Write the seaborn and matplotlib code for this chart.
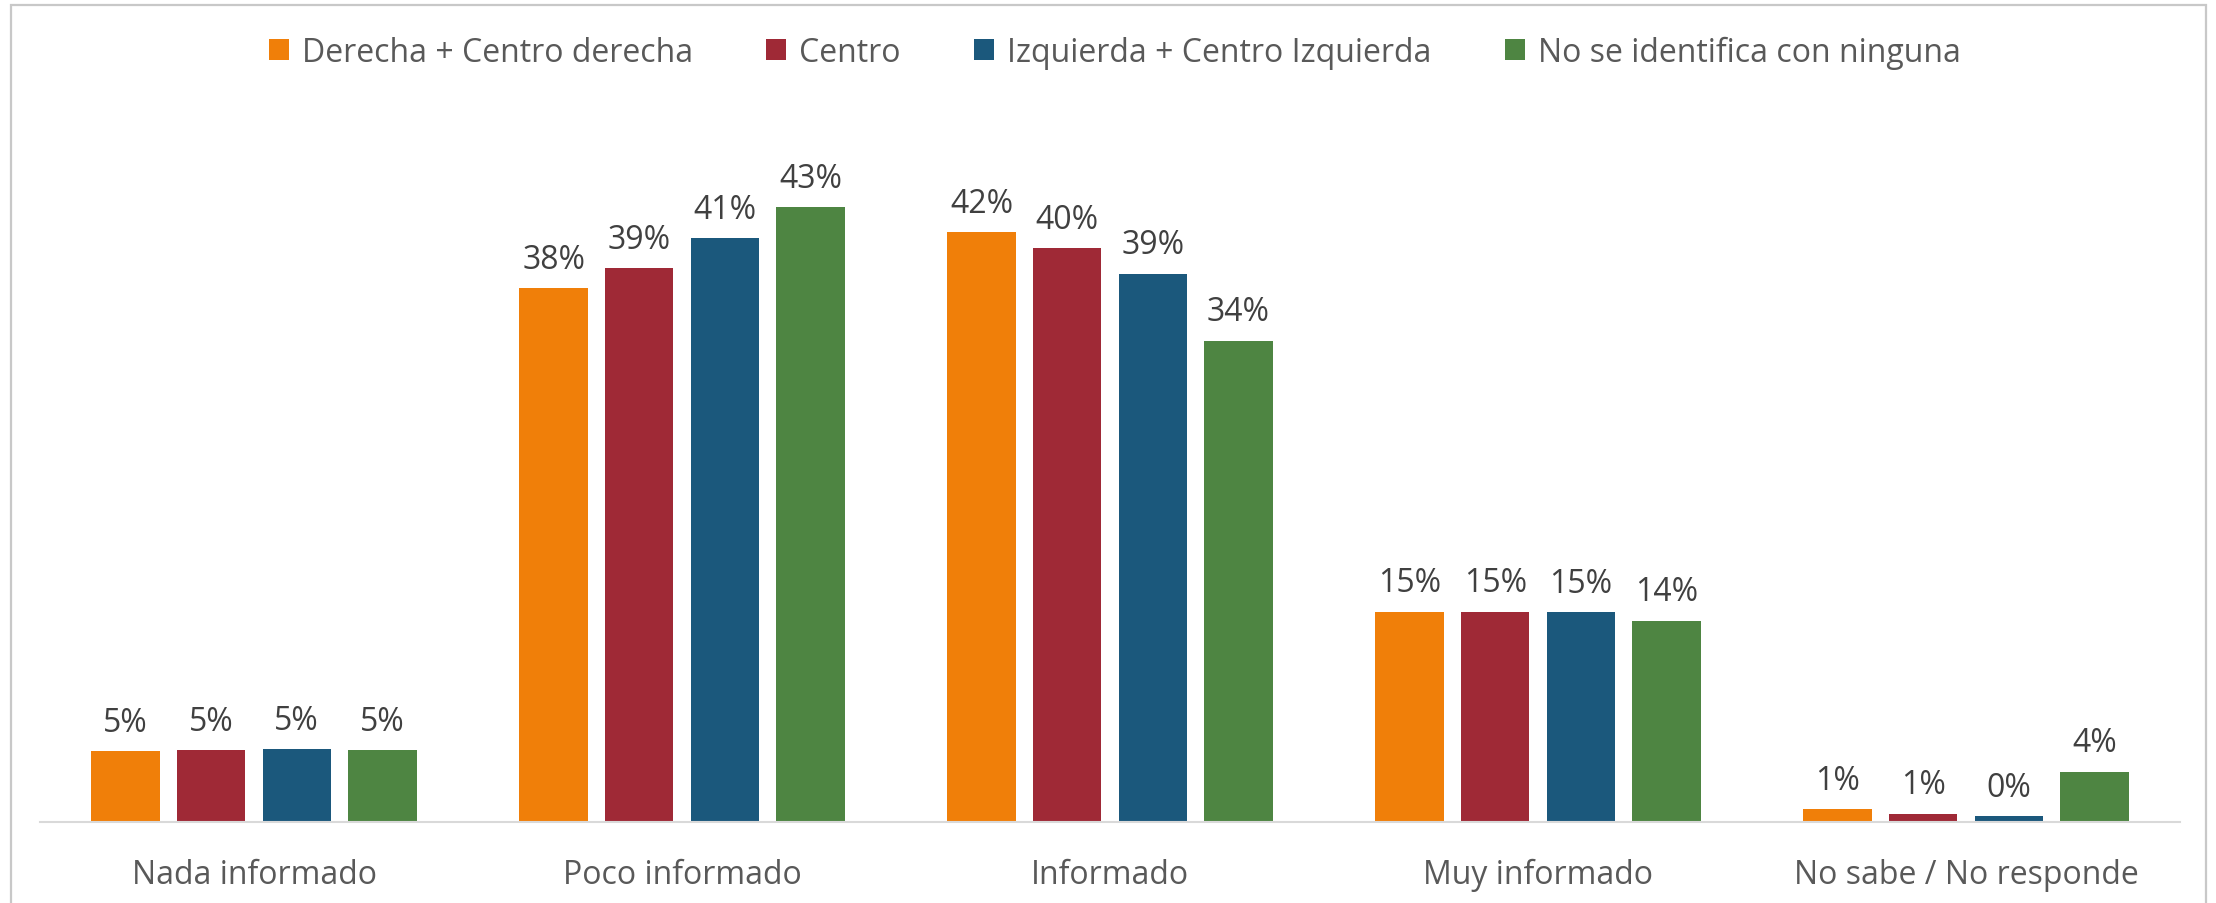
import pandas as pd
import matplotlib.pyplot as plt
import seaborn as sns
from matplotlib.patches import Rectangle

# Data (percent)
categories = ["Nada informado", "Poco informado", "Informado", "Muy informado", "No sabe / No responde"]
series = ["Derecha + Centro derecha", "Centro", "Izquierda + Centro Izquierda", "No se identifica con ninguna"]
derecha = [4.98, 37.6, 41.55, 14.8, 0.89]
centro = [5.05, 39.0, 40.4, 14.8, 0.56]
izquierda = [5.12, 41.1, 38.6, 14.75, 0.4]
ninguna = [5.05, 43.3, 33.9, 14.15, 3.52]
colors = ["#F07F09", "#9F2936", "#1B587C", "#4E8542"]

# Build long table for seaborn
rows = []
for name, vals in zip(series, [derecha, centro, izquierda, ninguna]):
    for cat, v in zip(categories, vals):
        rows.append({"categoria": cat, "serie": name, "valor": v})
df = pd.DataFrame(rows)

sns.set_theme(style="white")
plt.rcParams['font.family'] = ['Open Sans', 'DejaVu Sans']

fig = plt.figure(figsize=(22.16, 9.04), dpi=100)
ax = fig.add_axes([40 / 2216, (904 - 822.7) / 904, 2140 / 2216, 709.5 / 904])

sns.barplot(data=df, x="categoria", y="valor", hue="serie", order=categories,
            hue_order=series, palette=colors, saturation=1, width=0.8, gap=0.2,
            linewidth=0, ax=ax)

ax.set_ylim(0, 50)
ax.set_xlim(-0.5, len(categories) - 0.5)
ax.set_xlabel("")
ax.set_ylabel("")
ax.set_yticks([])
ax.tick_params(axis="x", length=0, pad=26, labelsize=23, labelcolor="#595959")
sns.despine(ax=ax, left=True)
ax.spines["bottom"].set_color("#D9D9D9")
ax.spines["bottom"].set_linewidth(1.5)

# Data labels
for c in ax.containers:
    ax.bar_label(c, fmt="{:.0f}%", padding=9, fontsize=23, color="#404040")

# Legend on top
handles, labels = ax.get_legend_handles_labels()
if ax.legend_ is not None:
    ax.legend_.remove()
fig.legend(handles, labels, loc="center", bbox_to_anchor=(0.503, 1 - 53 / 904),
           ncol=4, frameon=False, fontsize=23, labelcolor="#595959",
           handlelength=0.63, handleheight=0.63, handletextpad=0.4,
           columnspacing=2.3)

# Light gray chart border
fig.patches.append(Rectangle((11 / 2216, -0.1), (2206 - 11) / 2216, 1.1 - 6 / 904,
                             transform=fig.transFigure, fill=False,
                             edgecolor="#C8C8C8", linewidth=1.6))

fig.savefig("out.png", dpi=100, facecolor="white")
